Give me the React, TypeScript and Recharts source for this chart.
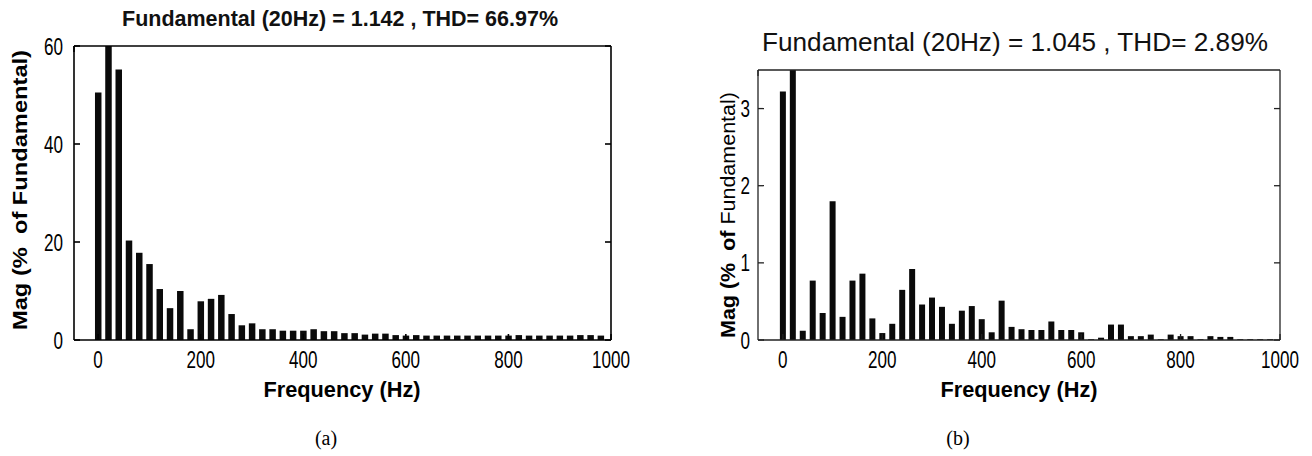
import React from 'react';
import { BarChart, Bar, XAxis, YAxis } from 'recharts';

const freqHz = [
  0, 20, 40, 60, 80, 100, 120, 140, 160, 180,
  200, 220, 240, 260, 280, 300, 320, 340, 360, 380,
  400, 420, 440, 460, 480, 500, 520, 540, 560, 580,
  600, 620, 640, 660, 680, 700, 720, 740, 760, 780,
  800, 820, 840, 860, 880, 900, 920, 940, 960, 980,
];

// (a) magnitude, % of fundamental (fundamental bar is clipped by the 60% axis limit)
const magA = [
  50.5, 100, 55.2, 20.3, 17.8, 15.5, 10.4, 6.5, 10.0, 2.2,
  7.9, 8.4, 9.2, 5.3, 3.0, 3.4, 2.2, 2.2, 1.9, 1.9,
  1.9, 2.2, 1.8, 1.8, 1.4, 1.4, 1.1, 1.3, 1.3, 1.0,
  0.9, 1.0, 0.9, 0.9, 0.9, 0.9, 0.9, 0.9, 0.9, 0.9,
  0.9, 1.0, 0.9, 0.9, 0.9, 0.9, 0.9, 1.0, 1.0, 0.9,
];

// (b) magnitude, % of fundamental (fundamental bar is clipped by the 3.5% axis limit)
const magB = [
  3.22, 100, 0.12, 0.77, 0.35, 1.8, 0.3, 0.77, 0.86, 0.28,
  0.09, 0.21, 0.65, 0.92, 0.46, 0.55, 0.43, 0.21, 0.38, 0.44,
  0.27, 0.1, 0.51, 0.17, 0.14, 0.13, 0.13, 0.24, 0.13, 0.13,
  0.1, 0.01, 0.03, 0.2, 0.2, 0.05, 0.05, 0.07, 0.01, 0.07,
  0.05, 0.05, 0.01, 0.05, 0.04, 0.04, 0.01, 0.01, 0.01, 0.01,
];

const xTicks = [0, 200, 400, 600, 800, 1000];
const yTicksA = [0, 20, 40, 60];
const yTicksB = [0, 1, 2, 3];

const titleA = 'Fundamental (20Hz) = 1.142 , THD= 66.97%';
const titleB = 'Fundamental (20Hz) = 1.045 , THD= 2.89%';
const xLabel = 'Frequency (Hz)';
const yLabelBold = 'Mag (%  of ';
const yLabelRest = 'Fundamental)';
const captionA = '(a)';
const captionB = '(b)';

const dataA = freqHz.map((f, i) => ({ f, m: magA[i] }));
const dataB = freqHz.map((f, i) => ({ f, m: magB[i] }));

const SANS = '"Liberation Sans", Arial, sans-serif';
const SERIF = '"Liberation Serif", "Times New Roman", serif';
const TICK_LEN = 6;

const digitW = (s: string) => s.length * 9.5;

const makeBottomTick = (stroke: string, sw: number) => (props: any) => {
  const { x, y, payload } = props;
  const label = String(payload.value);
  return (
    <g>
      <line x1={x} y1={y} x2={x} y2={y - TICK_LEN} stroke={stroke} strokeWidth={sw} />
      <text x={x} y={y + 28} textAnchor="middle" fontFamily={SANS} fontSize={23} fill="#000"
        textLength={digitW(label)} lengthAdjust="spacingAndGlyphs">{label}</text>
    </g>
  );
};

const makeTopTick = (stroke: string, sw: number) => (props: any) => {
  const { x, y } = props;
  return <line x1={x} y1={y} x2={x} y2={y + TICK_LEN} stroke={stroke} strokeWidth={sw} />;
};

const makeLeftTick = (stroke: string, sw: number, gap: number) => (props: any) => {
  const { x, y, payload } = props;
  const label = String(payload.value);
  return (
    <g>
      <line x1={x} y1={y} x2={x + TICK_LEN} y2={y} stroke={stroke} strokeWidth={sw} />
      <text x={x - gap} y={y + 8.5} textAnchor="end" fontFamily={SANS} fontSize={23} fill="#000"
        textLength={digitW(label)} lengthAdjust="spacingAndGlyphs">{label}</text>
    </g>
  );
};

const makeRightTick = (stroke: string, sw: number) => (props: any) => {
  const { x, y } = props;
  return <line x1={x} y1={y} x2={x - TICK_LEN} y2={y} stroke={stroke} strokeWidth={sw} />;
};

const W = 656;
const H = 456;

function PanelA() {
  const stroke = '#000';
  const sw = 1.6;
  return (
    <BarChart width={W} height={H} data={dataA} margin={{ top: 45, right: 44, bottom: 115, left: 73 }}>
      <XAxis dataKey="f" type="number" domain={[-47, 1000]} ticks={xTicks} allowDataOverflow
        height={1} tickSize={0} tickMargin={0} tickLine={false} interval={0}
        axisLine={{ stroke, strokeWidth: sw }} tick={makeBottomTick(stroke, sw)}
        label={() => (
          <g>
            <text x={342} y={397} textAnchor="middle" fontFamily={SANS} fontWeight="bold" fontSize={22}
              textLength={157} lengthAdjust="spacingAndGlyphs" fill="#000">{xLabel}</text>
            <text x={326} y={445} textAnchor="middle" fontFamily={SERIF} fontSize={20} fill="#000">{captionA}</text>
          </g>
        )} />
      <XAxis xAxisId="top" orientation="top" type="number" domain={[-47, 1000]} ticks={xTicks} allowDataOverflow
        height={1} tickSize={0} tickMargin={0} tickLine={false} interval={0}
        axisLine={{ stroke, strokeWidth: sw }} tick={makeTopTick(stroke, sw)}
        label={() => (
          <text x={340} y={26} textAnchor="middle" fontFamily={SANS} fontWeight="bold" fontSize={22}
            textLength={436} lengthAdjust="spacingAndGlyphs" fill="#111">{titleA}</text>
        )} />
      <YAxis type="number" domain={[0, 60]} ticks={yTicksA} allowDataOverflow
        width={1} tickSize={0} tickMargin={0} tickLine={false} interval={0}
        axisLine={{ stroke, strokeWidth: sw }} tick={makeLeftTick(stroke, sw, 11)}
        label={() => (
          <text x={27} y={190} transform="rotate(-90, 27, 190)" textAnchor="middle" fontFamily={SANS}
            fontWeight="bold" fontSize={21} style={{ whiteSpace: 'pre' }}
            textLength={280} lengthAdjust="spacingAndGlyphs" fill="#000">{yLabelBold + yLabelRest}</text>
        )} />
      <YAxis yAxisId="right" orientation="right" type="number" domain={[0, 60]} ticks={yTicksA} allowDataOverflow
        width={1} tickSize={0} tickMargin={0} tickLine={false} interval={0}
        axisLine={{ stroke, strokeWidth: sw }} tick={makeRightTick(stroke, sw)} />
      <Bar dataKey="m" fill="#0a0a0a" barSize={6.5} isAnimationActive={false} />
    </BarChart>
  );
}

function PanelB() {
  const stroke = '#222';
  const sw = 1.3;
  return (
    <BarChart width={W} height={H} data={dataB} margin={{ top: 69, right: 31, bottom: 115, left: 101 }}>
      <XAxis dataKey="f" type="number" domain={[-50, 1000]} ticks={xTicks} allowDataOverflow
        height={1} tickSize={0} tickMargin={0} tickLine={false} interval={0}
        axisLine={{ stroke, strokeWidth: sw }} tick={makeBottomTick(stroke, sw)}
        label={() => (
          <g>
            <text x={363} y={397} textAnchor="middle" fontFamily={SANS} fontWeight="bold" fontSize={22}
              textLength={157} lengthAdjust="spacingAndGlyphs" fill="#000">{xLabel}</text>
            <text x={302} y={445} textAnchor="middle" fontFamily={SERIF} fontSize={20} fill="#000">{captionB}</text>
          </g>
        )} />
      <XAxis xAxisId="top" orientation="top" type="number" domain={[-50, 1000]} ticks={xTicks} allowDataOverflow
        height={1} tickSize={0} tickMargin={0} tickLine={false} interval={0}
        axisLine={{ stroke, strokeWidth: sw }} tick={makeTopTick(stroke, sw)}
        label={() => (
          <text x={359} y={51} textAnchor="middle" fontFamily={SANS} fontSize={26}
            textLength={506} lengthAdjust="spacingAndGlyphs" fill="#111">{titleB}</text>
        )} />
      <YAxis type="number" domain={[0, 3.5]} ticks={yTicksB} allowDataOverflow
        width={1} tickSize={0} tickMargin={0} tickLine={false} interval={0}
        axisLine={{ stroke, strokeWidth: sw }} tick={makeLeftTick(stroke, sw, 8)}
        label={() => (
          <text x={79} y={215} transform="rotate(-90, 79, 215)" textAnchor="middle" fontFamily={SANS}
            fontSize={20} style={{ whiteSpace: 'pre' }}
            textLength={246} lengthAdjust="spacingAndGlyphs" fill="#000">
            <tspan fontWeight="bold">{yLabelBold}</tspan>
            <tspan fontWeight="normal">{yLabelRest}</tspan>
          </text>
        )} />
      <YAxis yAxisId="right" orientation="right" type="number" domain={[0, 3.5]} ticks={yTicksB} allowDataOverflow
        width={1} tickSize={0} tickMargin={0} tickLine={false} interval={0}
        axisLine={{ stroke, strokeWidth: sw }} tick={makeRightTick(stroke, sw)} />
      <Bar dataKey="m" fill="#0a0a0a" barSize={6} isAnimationActive={false} />
    </BarChart>
  );
}

export default function App() {
  return (
    <div style={{ position: 'absolute', left: 0, top: 0, width: 1312, height: 456, background: '#fff' }}>
      <div style={{ position: 'absolute', left: 0, top: 0 }}>
        <PanelA />
      </div>
      <div style={{ position: 'absolute', left: 656, top: 0 }}>
        <PanelB />
      </div>
    </div>
  );
}
